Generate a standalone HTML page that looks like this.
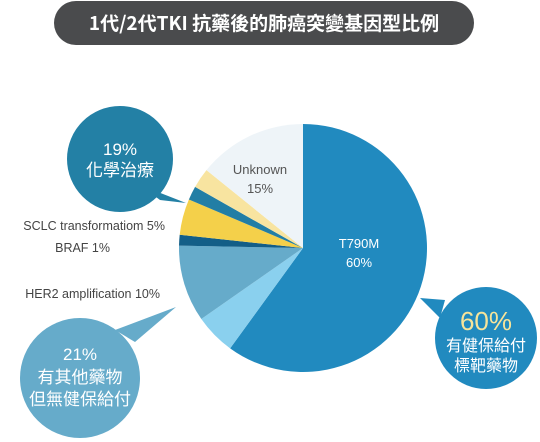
<!DOCTYPE html>
<html><head><meta charset="utf-8"><style>
body{margin:0;background:#fff;}
svg{display:block;font-family:"Liberation Sans","Noto Sans CJK TC",sans-serif;}
</style></head><body>
<svg id="c" width="540" height="442" viewBox="0 0 540 442">
<g>
<rect x="54" y="1" width="420" height="44" rx="22" fill="#4a4b4d"/>
<text x="264" y="30" text-anchor="middle" fill="#fff" font-size="19" font-weight="bold" font-family="'Noto Sans CJK TC',sans-serif">1代/2代TKI  抗藥後的肺癌突變基因型比例</text>
</g>
<g id="pie"></g>
<g>
<polygon points="140,185 160,200 186,203" fill="#2380a5"/>
<circle cx="120" cy="159" r="53" fill="#2380a5"/>
<text x="120" y="155" text-anchor="middle" fill="#fff" font-size="17">19%</text>
<text x="120" y="176" text-anchor="middle" fill="#fff" font-size="17" font-family="'Noto Sans CJK TC',sans-serif">化學治療</text>
</g>
<g>
<polygon points="115,330 135,342 176,307" fill="#66abca"/>
<circle cx="80" cy="378" r="60" fill="#66abca"/>
<text x="80" y="360" text-anchor="middle" fill="#fff" font-size="17">21%</text>
<text x="80" y="383" text-anchor="middle" fill="#fff" font-size="17" font-family="'Noto Sans CJK TC',sans-serif">有其他藥物</text>
<text x="80" y="405" text-anchor="middle" fill="#fff" font-size="17" font-family="'Noto Sans CJK TC',sans-serif">但無健保給付</text>
</g>
<g>
<polygon points="420,298 445,300 440,318" fill="#218abf"/>
<circle cx="486" cy="338" r="51" fill="#218abf"/>
<text x="486" y="330" text-anchor="middle" fill="#f7e49a" font-size="26">60%</text>
<text x="486" y="351" text-anchor="middle" fill="#fff" font-size="16" font-family="'Noto Sans CJK TC',sans-serif">有健保給付</text>
<text x="486" y="371" text-anchor="middle" fill="#fff" font-size="16" font-family="'Noto Sans CJK TC',sans-serif">標靶藥物</text>
</g>
<g fill="#444" font-size="12.5">
<text x="165" y="230" text-anchor="end">SCLC transformatiom 5%</text>
<text x="110" y="252" text-anchor="end">BRAF 1%</text>
<text x="160" y="298" text-anchor="end">HER2 amplification 10%</text>
</g>
<text x="260" y="174" text-anchor="middle" fill="#555" font-size="13">Unknown</text>
<text x="260" y="193" text-anchor="middle" fill="#555" font-size="13">15%</text>
<text x="359" y="248" text-anchor="middle" fill="#fff" font-size="13">T790M</text>
<text x="359" y="267" text-anchor="middle" fill="#fff" font-size="13">60%</text>
</svg>
<script>
const categories=["T790M","Other1","HER2","BRAF","SCLC","Other2","Other3","Unknown"];
const values=[60,5.3,10,1.4,4.7,1.8,2.6,14.2];
const colors=["#218abf","#8ad0ee","#66abca","#135e87","#f4d04a","#227ea5","#f8e4a0","#eef4f8"];
const cx=303,cy=248,r=124;
const g=document.getElementById('pie');
const total=values.reduce((a,b)=>a+b,0);
let acc=0;
function pt(f){const a=f*2*Math.PI;return [cx+r*Math.sin(a),cy-r*Math.cos(a)];}
values.forEach((v,i)=>{
  const s=pt(acc/total);acc+=v;const e=pt(acc/total);
  const large=v/total>0.5?1:0;
  const p=document.createElementNS('http://www.w3.org/2000/svg','path');
  p.setAttribute('d',`M${cx},${cy} L${s[0]},${s[1]} A${r},${r} 0 ${large} 1 ${e[0]},${e[1]} Z`);
  p.setAttribute('fill',colors[i]);
  
  
  g.appendChild(p);
});
</script>
</body></html>
